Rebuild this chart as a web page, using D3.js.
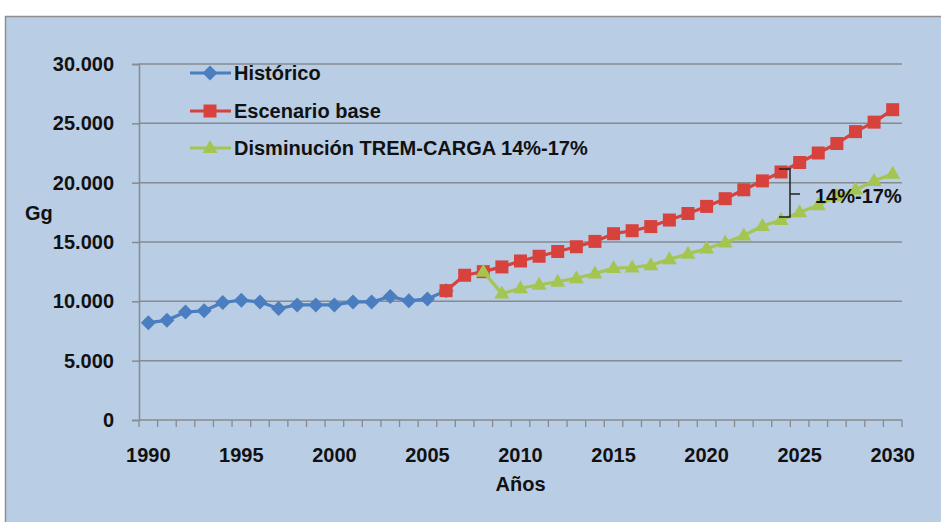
<!DOCTYPE html>
<html>
<head>
<meta charset="utf-8">
<script src="https://cdn.jsdelivr.net/npm/d3@7/dist/d3.min.js"></script>
<style>
  html, body { margin: 0; padding: 0; background: #ffffff; }
  svg { display: block; font-family: "Liberation Sans", Arial, sans-serif; }
</style>
</head>
<body>
<svg id="chart" width="941" height="522"></svg>
<script>
// Years on the category axis
const years = d3.range(1990, 2031);
const yearLabels = [1990, 1995, 2000, 2005, 2010, 2015, 2020, 2025, 2030];
const yTicks = [0, 5000, 10000, 15000, 20000, 25000, 30000];

// Emissions, Gg
const historicoYears = d3.range(1990, 2007);
const historico = [8200, 8400, 9100, 9200, 9900, 10100, 9950, 9400, 9700, 9700, 9700,
                   9950, 9950, 10400, 10050, 10200, 10900];

const baseYears = d3.range(2006, 2031);
const base = [10900, 12200, 12500, 12900, 13400, 13800, 14200, 14600, 15050, 15700,
              15950, 16300, 16850, 17400, 18000, 18650, 19400, 20150, 20900, 21700,
              22500, 23300, 24300, 25100, 26150];

const tremYears = d3.range(2008, 2031);
const trem = [12500, 10650, 11100, 11400, 11650, 11950, 12350, 12800, 12850, 13050,
              13550, 14000, 14450, 14950, 15550, 16350, 16850, 17500, 18100, 18850,
              19400, 20150, 20750];

const seriesNames = ["Histórico", "Escenario base", "Disminución TREM-CARGA 14%-17%"];

const svg = d3.select("#chart");
const FONT = 20;

// chart frame
svg.append("rect")
  .attr("x", 5.5).attr("y", 16.5).attr("width", 945).attr("height", 520)
  .attr("fill", "#b9cde5").attr("stroke", "#8f8f8f").attr("stroke-width", 1.5);

const x = d3.scaleBand().domain(years).range([139, 902]).paddingInner(0).paddingOuter(0);
const y = d3.scaleLinear().domain([0, 30000]).range([420, 64]);
const cx = yr => x(yr) + x.bandwidth() / 2;

const gridColor = "#878a8e";

// horizontal gridlines
svg.append("g").selectAll("line").data(yTicks.filter(d => d > 0)).join("line")
  .attr("x1", x.range()[0]).attr("x2", x.range()[1])
  .attr("y1", d => y(d)).attr("y2", d => y(d))
  .attr("stroke", gridColor).attr("stroke-width", 1.5);

// y axis
const yAxis = svg.append("g").attr("transform", `translate(${x.range()[0]},0)`)
  .call(d3.axisLeft(y).tickValues(yTicks).tickSize(7).tickPadding(18)
    .tickFormat(d => d === 0 ? "0" : d3.format(",")(d).replace(/,/g, ".")));
yAxis.select(".domain").attr("stroke", gridColor).attr("stroke-width", 1.5);
yAxis.selectAll(".tick line").attr("stroke", gridColor).attr("stroke-width", 1.5);
yAxis.selectAll(".tick text").attr("font-size", FONT).attr("font-weight", "bold")
  .attr("fill", "#111").attr("font-family", "Liberation Sans, Arial, sans-serif");

// x axis: ticks on category boundaries, labels every five years
const xg = svg.append("g");
xg.append("line").attr("x1", x.range()[0]).attr("x2", x.range()[1])
  .attr("y1", y(0)).attr("y2", y(0)).attr("stroke", gridColor).attr("stroke-width", 1.5);
xg.selectAll("line.tk").data(years.concat([2031])).join("line").attr("class", "tk")
  .attr("x1", d => d === 2031 ? x.range()[1] : x(d))
  .attr("x2", d => d === 2031 ? x.range()[1] : x(d))
  .attr("y1", y(0)).attr("y2", y(0) + 7)
  .attr("stroke", gridColor).attr("stroke-width", 1.3);
xg.selectAll("text").data(yearLabels).join("text")
  .attr("x", d => cx(d)).attr("y", 462)
  .attr("text-anchor", "middle").attr("font-size", FONT).attr("font-weight", "bold")
  .attr("fill", "#111").text(d => d);

// axis titles
svg.append("text").attr("x", cx(2010)).attr("y", 491).attr("text-anchor", "middle")
  .attr("font-size", FONT).attr("font-weight", "bold").attr("fill", "#111").text("Años");
svg.append("text").attr("x", 25).attr("y", 220)
  .attr("font-size", FONT).attr("font-weight", "bold").attr("fill", "#111").text("Gg");

// marker shapes
const markers = {
  diamond: (px, py) => `M${px},${py - 7.5}L${px + 7.5},${py}L${px},${py + 7.5}L${px - 7.5},${py}Z`,
  square: (px, py) => `M${px - 6.5},${py - 6.5}h13v13h-13Z`,
  triangle: (px, py) => `M${px},${py - 8}L${px + 7.5},${py + 5}L${px - 7.5},${py + 5}Z`
};

const series = [
  { name: seriesNames[0], yrs: historicoYears, vals: historico, color: "#4a7ec0", marker: "diamond" },
  { name: seriesNames[1], yrs: baseYears, vals: base, color: "#d7423d", marker: "square" },
  { name: seriesNames[2], yrs: tremYears, vals: trem, color: "#a4c650", marker: "triangle" }
];

const line = d3.line().x(d => cx(d[0])).y(d => y(d[1]));

series.forEach(s => {
  const pts = s.yrs.map((yr, i) => [yr, s.vals[i]]);
  const g = svg.append("g");
  g.append("path").attr("d", line(pts)).attr("fill", "none")
    .attr("stroke", s.color).attr("stroke-width", 3.2).attr("stroke-linejoin", "round");
  g.selectAll("path.m").data(pts).join("path").attr("class", "m")
    .attr("d", d => markers[s.marker](cx(d[0]), y(d[1])))
    .attr("fill", s.color);
});

// legend (no box; gridlines show through)
const legendRows = [73, 111, 148];
series.forEach((s, i) => {
  const ly = legendRows[i];
  const g = svg.append("g");
  g.append("line").attr("x1", 190).attr("x2", 231).attr("y1", ly).attr("y2", ly)
    .attr("stroke", s.color).attr("stroke-width", 3.2);
  g.append("path").attr("d", markers[s.marker](210, ly)).attr("fill", s.color);
  g.append("text").attr("x", 234).attr("y", ly + 7)
    .attr("font-size", FONT).attr("font-weight", "bold").attr("fill", "#111").text(s.name);
});

// bracket showing the gap between scenarios in 2024
const bx = 790, by0 = 169, by1 = 217, bm = 194;
svg.append("path")
  .attr("d", `M${bx - 11},${by0}H${bx}V${by1}H${bx - 11}M${bx},${bm}H${bx + 10}`)
  .attr("fill", "none").attr("stroke", "#222").attr("stroke-width", 1.5);
svg.append("text").attr("x", 815).attr("y", 203)
  .attr("font-size", FONT).attr("font-weight", "bold").attr("fill", "#111").text("14%-17%");
</script>
</body>
</html>
